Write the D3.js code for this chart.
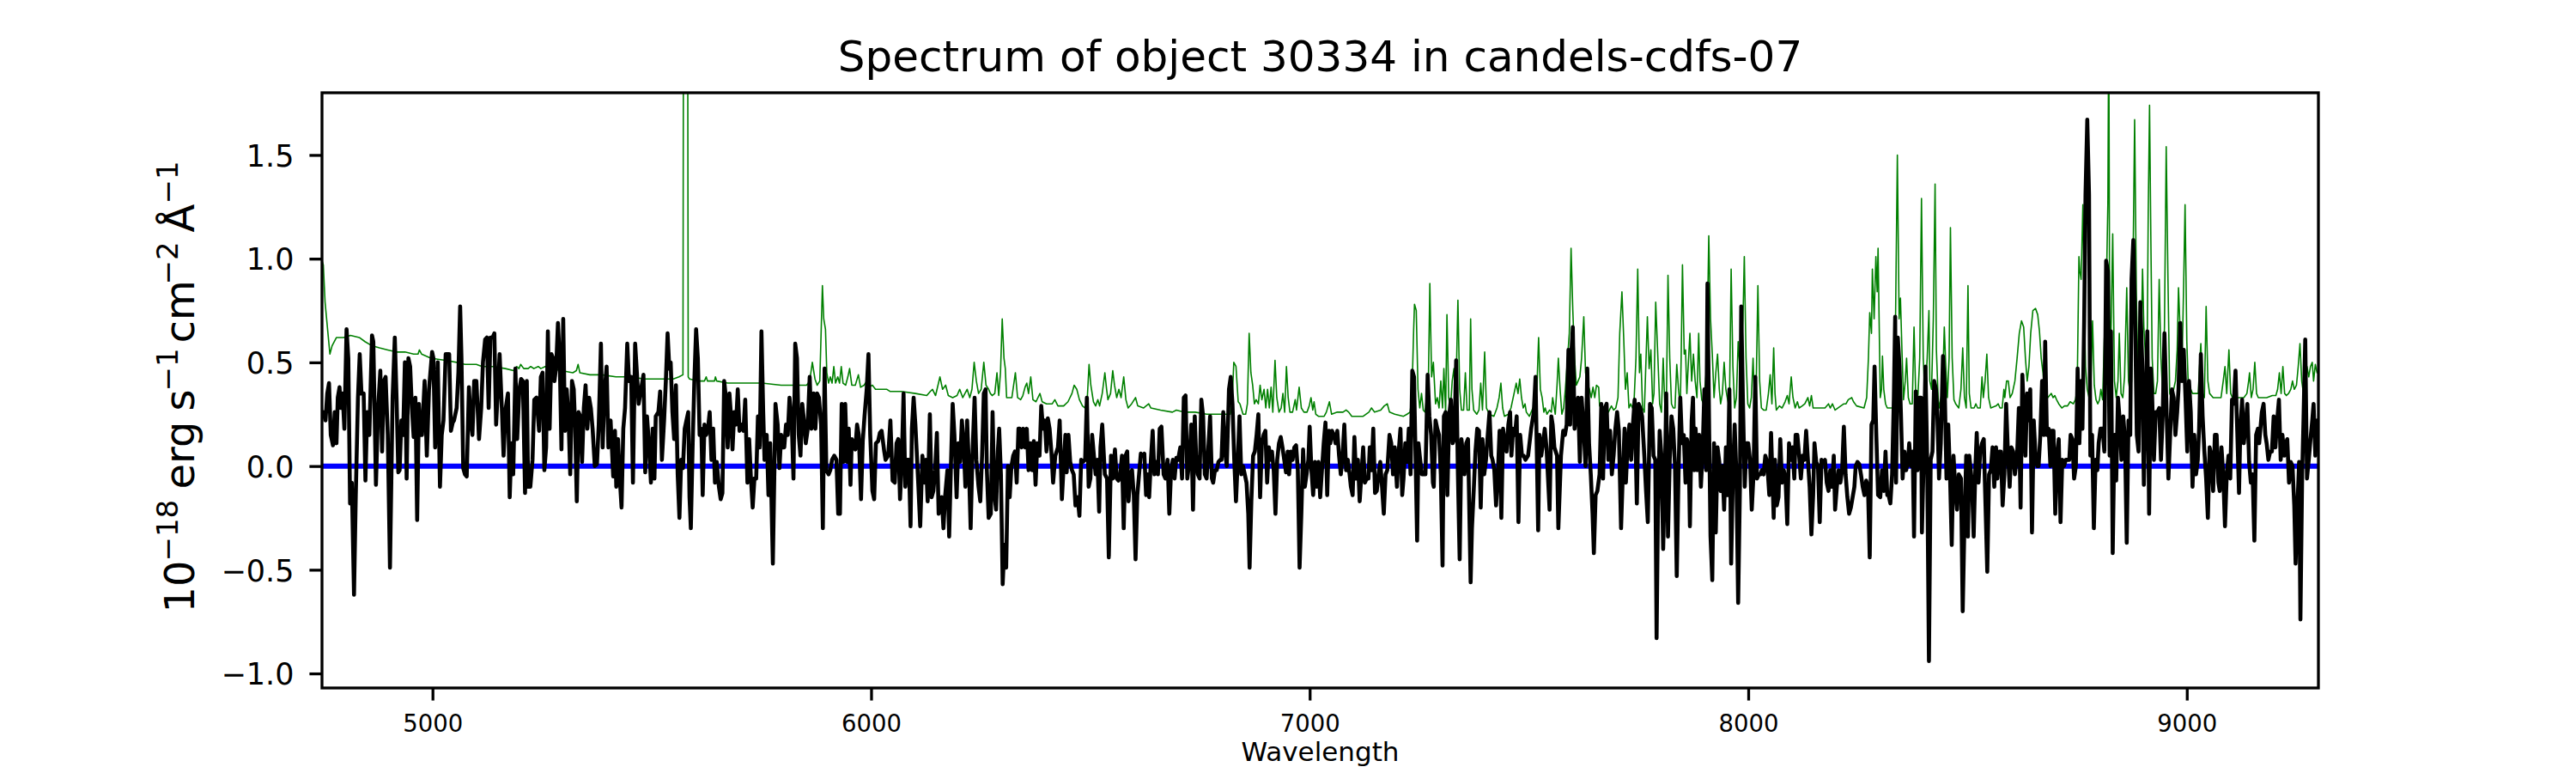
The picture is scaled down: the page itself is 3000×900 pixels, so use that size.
<!DOCTYPE html>
<html><head><meta charset="utf-8">
<script src="https://cdn.jsdelivr.net/npm/d3@7"></script>
<style>body{margin:0;background:#fff}svg{display:block}text{font-family:"DejaVu Sans",sans-serif;fill:#000}</style>
</head><body><svg id="chart" width="3000" height="900"></svg>
<script>
const titleText = "Spectrum of object 30334 in candels-cdfs-07";
const xLabelText = "Wavelength";
const xTicks = [5000, 6000, 7000, 8000, 9000];
const yTicks = [-1.0, -0.5, 0.0, 0.5, 1.0, 1.5];
const xDomain = [4748, 9300];
const yDomain = [-1.07, 1.80];
const zeroLevel = [[4748, 0], [9300, 0]];

// observed flux [wavelength, flux]
const fluxPoints = [
[4749,0.25],[4751,0.26],[4756,0.22],[4760,0.35],[4764,0.40],[4768,0.15],[4773,0.10],[4777,0.26],[4781,0.11],[4784,0.33],[4788,0.38],[4791,0.28],[4795,0.35],[4799,0.18],[4804,0.66],[4808,0.52],[4812,-0.18],[4816,-0.08],[4821,-0.62],[4825,-0.14],[4830,0.33],[4834,0.54],[4838,0.35],[4843,0.35],[4847,-0.07],[4851,0.26],[4856,0.15],[4862,0.63],[4865,0.60],[4871,-0.09],[4876,0.28],[4881,0.46],[4885,0.07],[4889,0.41],[4893,0.43],[4898,0.15],[4903,-0.49],[4909,0.33],[4914,0.62],[4918,0.33],[4922,-0.03],[4925,-0.02],[4929,0.22],[4933,0.15],[4937,0.50],[4941,-0.06],[4945,0.52],[4949,0.48],[4953,0.28],[4957,0.14],[4961,0.33],[4965,-0.26],[4969,0.30],[4972,0.15],[4976,0.15],[4982,0.41],[4987,0.05],[4992,0.37],[4999,0.55],[5002,0.52],[5006,0.09],[5012,0.50],[5017,-0.10],[5021,0.15],[5025,0.22],[5030,0.54],[5034,0.54],[5038,0.54],[5042,0.17],[5046,0.21],[5049,0.22],[5055,0.28],[5059,0.45],[5063,0.77],[5066,0.52],[5070,-0.01],[5074,-0.04],[5078,-0.05],[5083,0.38],[5087,0.22],[5091,0.15],[5095,0.41],[5100,0.41],[5106,0.13],[5111,0.28],[5115,0.50],[5120,0.61],[5124,0.62],[5128,0.28],[5132,0.62],[5137,0.62],[5141,0.64],[5145,0.20],[5149,0.37],[5153,0.54],[5158,0.28],[5162,0.05],[5167,0.28],[5172,0.35],[5176,-0.15],[5180,0.11],[5184,-0.04],[5189,0.47],[5193,0.13],[5198,0.37],[5202,0.42],[5206,0.41],[5211,-0.13],[5215,0.41],[5218,-0.10],[5223,-0.10],[5228,0.03],[5232,0.32],[5237,0.33],[5243,0.17],[5247,0.43],[5251,0.45],
[5255,-0.02],[5259,0.09],[5263,0.65],[5267,0.18],[5271,0.54],[5275,0.52],[5278,0.41],[5282,0.48],[5286,0.69],[5290,0.52],[5294,0.08],[5298,0.71],[5302,0.17],[5306,0.37],[5310,0.24],[5314,-0.04],[5318,0.41],[5322,0.37],[5325,0.20],[5329,-0.17],[5333,0.26],[5337,0.24],[5341,0.02],[5345,0.28],[5349,0.39],[5353,0.18],[5357,0.33],[5361,0.28],[5365,0.18],[5370,0.00],[5375,0.01],[5379,0.20],[5384,0.59],[5388,0.09],[5392,0.35],[5397,0.48],[5401,0.09],[5406,0.22],[5412,-0.05],[5416,0.17],[5419,-0.10],[5423,0.13],[5427,-0.06],[5431,-0.20],[5435,0.18],[5439,0.28],[5444,0.59],[5448,0.41],[5453,0.43],[5457,-0.08],[5462,0.59],[5466,0.45],[5470,0.30],[5474,0.35],[5481,0.44],[5485,-0.03],[5489,0.24],[5494,0.09],[5498,-0.08],[5502,0.18],[5506,-0.06],[5509,0.24],[5515,0.26],[5519,0.36],[5523,0.03],[5528,0.22],[5532,0.41],[5536,0.64],[5540,0.47],[5543,0.50],[5547,0.26],[5551,0.13],[5555,0.39],[5559,-0.04],[5563,-0.25],[5567,0.03],[5571,-0.01],[5575,0.18],[5579,0.22],[5583,0.26],[5586,-0.15],[5589,-0.30],[5593,0.09],[5597,0.41],[5601,0.66],[5605,0.52],[5609,0.15],[5613,0.18],[5616,-0.14],[5620,0.20],[5624,0.15],[5628,0.18],[5632,0.26],[5636,0.03],[5640,0.18],[5644,-0.08],[5648,0.02],[5653,-0.10],[5657,-0.16],[5661,-0.13],[5665,0.41],[5669,0.33],[5673,0.09],[5677,0.35],[5680,0.26],[5684,0.08],[5688,0.26],[5692,0.20],[5696,0.37],[5700,0.17],[5705,0.20],[5709,0.17],[5713,0.32],[5718,-0.08],[5722,0.13],[5726,-0.06],[5730,-0.20],[5734,-0.06],[5738,-0.06],[5742,0.24],[5746,0.09],[5750,0.65],[5754,0.26],[5757,0.03],
[5762,0.15],[5766,-0.14],[5770,0.11],[5776,-0.47],[5782,0.30],[5787,0.20],[5791,-0.01],[5795,0.15],[5799,0.09],[5802,0.09],[5806,0.20],[5810,0.15],[5814,0.33],[5819,0.22],[5823,-0.06],[5827,0.59],[5831,0.52],[5835,0.15],[5839,0.05],[5843,0.30],[5847,0.22],[5851,0.11],[5855,0.17],[5860,0.43],[5864,0.18],[5869,0.35],[5873,0.18],[5877,0.35],[5881,0.33],[5886,0.20],[5890,-0.30],[5894,0.47],[5898,-0.02],[5903,-0.04],[5907,-0.02],[5911,0.03],[5916,0.05],[5921,0.03],[5925,-0.23],[5929,-0.23],[5933,0.30],[5937,0.02],[5941,0.30],[5945,0.02],[5949,0.18],[5953,-0.09],[5956,0.13],[5960,0.11],[5964,0.08],[5968,0.20],[5972,0.15],[5977,-0.16],[5981,0.12],[5985,0.24],[5990,0.37],[5994,0.54],[5998,0.15],[6003,-0.12],[6007,-0.16],[6011,0.11],[6016,0.12],[6020,0.16],[6024,0.17],[6030,0.07],[6033,0.03],[6039,0.05],[6044,0.22],[6049,-0.07],[6054,-0.08],[6058,0.11],[6062,0.13],[6066,-0.16],[6070,0.03],[6074,0.35],[6078,-0.10],[6082,0.03],[6086,0.03],[6090,-0.29],[6093,0.18],[6097,0.33],[6101,0.20],[6107,-0.06],[6112,-0.29],[6117,0.05],[6121,-0.08],[6125,0.03],[6129,-0.17],[6134,0.25],[6138,-0.15],[6142,-0.12],[6146,-0.02],[6150,0.16],[6154,-0.23],[6157,-0.21],[6161,-0.15],[6165,-0.30],[6169,-0.14],[6174,-0.02],[6178,-0.34],[6182,0.00],[6186,0.30],[6190,0.15],[6195,-0.15],[6199,0.11],[6203,0.02],[6207,0.22],[6211,0.11],[6215,-0.10],[6219,0.22],[6223,0.00],[6227,-0.30],[6231,0.05],[6236,0.33],[6240,0.03],[6245,-0.10],[6249,-0.17],[6253,0.05],[6257,0.35],[6261,0.37],[6264,-0.02],[6268,-0.25],
[6273,-0.23],[6277,0.26],[6281,-0.14],[6285,-0.21],[6289,0.07],[6292,0.18],[6296,-0.04],[6300,-0.57],[6304,-0.38],[6308,-0.49],[6312,0.00],[6316,-0.15],[6320,0.00],[6324,0.05],[6328,0.07],[6332,-0.08],[6336,0.18],[6339,0.18],[6343,0.09],[6347,0.18],[6351,0.09],[6355,0.18],[6359,-0.02],[6363,0.11],[6367,-0.02],[6371,0.12],[6375,-0.09],[6379,0.11],[6384,0.05],[6388,0.29],[6392,0.18],[6396,0.22],[6400,0.07],[6403,0.23],[6407,0.18],[6411,0.07],[6415,-0.08],[6420,0.05],[6426,0.09],[6430,0.22],[6435,-0.16],[6439,0.00],[6443,0.15],[6446,-0.03],[6450,0.15],[6454,0.02],[6458,-0.02],[6462,-0.04],[6466,-0.19],[6471,-0.15],[6475,-0.24],[6479,0.03],[6483,0.02],[6488,0.03],[6492,0.33],[6496,-0.10],[6500,-0.06],[6504,0.15],[6508,0.05],[6512,-0.04],[6516,0.03],[6520,-0.22],[6523,0.09],[6527,0.20],[6533,-0.04],[6538,-0.06],[6542,-0.44],[6547,0.05],[6551,-0.06],[6556,0.08],[6560,-0.06],[6564,-0.07],[6568,-0.04],[6572,0.05],[6576,-0.30],[6580,0.05],[6584,0.07],[6587,-0.17],[6591,-0.04],[6595,-0.02],[6599,-0.14],[6603,-0.45],[6607,-0.14],[6611,-0.04],[6615,0.06],[6619,0.05],[6623,0.06],[6627,-0.14],[6630,-0.04],[6634,-0.15],[6638,0.03],[6642,0.17],[6646,-0.04],[6650,0.02],[6654,-0.04],[6658,0.18],[6662,0.19],[6667,-0.04],[6671,-0.06],[6676,0.03],[6680,-0.23],[6684,-0.02],[6688,0.03],[6692,-0.06],[6696,0.04],[6700,0.03],[6705,0.09],[6709,-0.06],[6713,0.33],[6717,0.34],[6721,-0.06],[6726,0.03],[6730,0.20],[6734,-0.21],[6738,0.24],[6741,0.05],[6745,-0.04],[6749,-0.06],[6753,0.32],[6757,0.24],[6761,-0.04],[6765,-0.06],[6769,0.09],[6773,0.24],[6777,-0.06],
[6780,-0.08],[6784,-0.02],[6788,-0.02],[6792,0.02],[6796,0.03],[6799,0.03],[6803,0.26],[6807,0.07],[6811,0.00],[6816,0.37],[6820,0.43],[6824,0.30],[6828,0.03],[6832,-0.17],[6836,0.03],[6840,0.24],[6844,-0.04],[6848,0.00],[6852,-0.04],[6856,-0.08],[6860,-0.23],[6863,-0.49],[6867,-0.17],[6871,0.05],[6875,0.07],[6879,0.15],[6883,0.25],[6887,-0.15],[6891,0.11],[6895,0.15],[6899,0.17],[6903,-0.08],[6907,0.09],[6910,0.03],[6914,0.07],[6918,-0.02],[6922,-0.23],[6926,0.03],[6930,0.11],[6934,0.14],[6938,0.09],[6942,0.03],[6946,-0.03],[6950,0.07],[6953,-0.04],[6957,0.07],[6961,0.03],[6965,0.09],[6969,0.10],[6973,-0.02],[6977,-0.49],[6981,-0.23],[6985,0.08],[6989,-0.10],[6993,-0.04],[6997,0.03],[7000,0.19],[7004,-0.02],[7008,-0.14],[7012,0.02],[7016,-0.10],[7020,0.02],[7024,-0.15],[7028,-0.02],[7032,0.11],[7036,0.21],[7040,-0.14],[7044,0.17],[7047,0.11],[7051,0.17],[7055,0.15],[7059,0.11],[7063,0.17],[7067,0.05],[7071,-0.04],[7075,0.05],[7079,0.20],[7083,-0.02],[7087,0.03],[7091,-0.04],[7094,-0.10],[7098,-0.14],[7102,0.14],[7106,-0.06],[7110,0.03],[7114,-0.17],[7118,-0.04],[7122,0.09],[7126,-0.08],[7130,-0.06],[7134,-0.06],[7137,0.09],[7141,-0.02],[7145,0.18],[7149,-0.13],[7153,-0.12],[7157,-0.04],[7161,0.02],[7165,-0.10],[7169,-0.23],[7173,-0.04],[7177,-0.02],[7182,0.15],[7186,0.11],[7190,-0.04],[7194,0.09],[7199,-0.10],[7203,0.07],[7207,0.18],[7211,-0.14],[7214,-0.06],[7218,0.11],[7222,0.02],[7226,0.18],[7230,-0.04],[7234,0.46],[7238,0.43],[7242,-0.02],[7245,-0.36],[7248,0.11],[7252,0.03],[7256,-0.04],[7260,-0.04],[7264,-0.04],[7269,0.44],[7273,0.24],[7277,0.15],[7281,-0.08],
[7283,-0.10],[7287,0.22],[7291,0.18],[7295,0.15],[7299,-0.04],[7303,-0.48],[7306,0.24],[7310,0.26],[7314,-0.14],[7318,0.24],[7322,0.32],[7326,0.11],[7330,0.13],[7334,0.51],[7338,-0.04],[7342,-0.45],[7346,0.13],[7350,0.05],[7353,-0.04],[7357,0.11],[7361,0.13],[7367,-0.56],[7370,-0.30],[7374,-0.12],[7378,0.07],[7382,0.18],[7386,0.17],[7390,-0.20],[7394,0.13],[7398,-0.04],[7402,0.03],[7406,0.15],[7410,0.26],[7414,0.05],[7417,0.03],[7421,-0.02],[7425,-0.19],[7429,-0.04],[7433,0.17],[7437,-0.25],[7441,0.18],[7445,0.11],[7449,0.07],[7453,0.20],[7457,0.26],[7460,0.05],[7464,0.18],[7468,0.15],[7472,0.24],[7476,-0.27],[7480,0.15],[7484,0.05],[7488,0.05],[7492,0.03],[7498,0.05],[7505,0.18],[7511,0.26],[7515,0.43],[7521,-0.31],[7524,0.15],[7528,0.05],[7532,0.11],[7536,0.18],[7540,0.09],[7547,-0.21],[7551,0.24],[7554,0.20],[7558,0.09],[7564,0.05],[7567,-0.30],[7573,0.05],[7578,0.17],[7582,0.15],[7586,0.20],[7590,0.56],[7594,0.20],[7596,0.52],[7600,0.67],[7604,0.18],[7608,0.26],[7612,0.33],[7616,0.02],[7620,0.33],[7625,0.17],[7629,0.00],[7633,0.47],[7637,0.11],[7641,-0.04],[7645,-0.23],[7648,-0.42],[7652,-0.14],[7656,-0.12],[7661,-0.04],[7665,0.30],[7669,-0.06],[7673,0.28],[7677,0.30],[7681,0.03],[7685,0.17],[7689,-0.04],[7693,0.05],[7697,0.18],[7701,0.26],[7705,0.17],[7710,-0.30],[7714,-0.04],[7718,0.18],[7721,-0.08],[7725,0.11],[7729,0.20],[7733,0.03],[7737,0.20],[7741,0.32],[7746,-0.18],[7750,0.30],[7754,0.28],[7758,0.24],[7763,0.05],[7767,-0.12],[7771,-0.27],[7776,0.30],[7780,0.28],[7784,0.05],[7788,0.03],[7791,-0.83],
[7794,-0.23],[7798,0.17],[7802,0.05],[7806,-0.40],[7810,-0.04],[7813,0.35],[7817,-0.34],[7821,0.03],[7825,0.24],[7829,0.18],[7833,0.00],[7837,-0.53],[7841,-0.04],[7845,0.33],[7849,0.11],[7853,0.15],[7857,-0.08],[7860,0.13],[7864,0.09],[7867,-0.29],[7871,0.22],[7874,0.33],[7877,-0.02],[7880,0.18],[7884,-0.02],[7888,0.15],[7892,-0.10],[7896,0.07],[7900,0.37],[7904,-0.02],[7907,0.88],[7911,0.15],[7914,-0.34],[7918,-0.55],[7922,0.11],[7926,-0.32],[7930,0.09],[7934,0.02],[7937,-0.12],[7941,0.00],[7945,-0.21],[7949,0.09],[7953,-0.14],[7957,0.37],[7961,-0.47],[7965,-0.04],[7969,0.20],[7973,-0.04],[7977,-0.66],[7981,-0.10],[7984,0.77],[7988,0.30],[7992,-0.10],[7996,0.11],[8000,0.11],[8004,0.03],[8008,-0.21],[8012,-0.04],[8016,0.43],[8020,-0.06],[8024,-0.04],[8028,-0.04],[8031,-0.02],[8035,-0.04],[8039,0.05],[8043,0.02],[8048,-0.14],[8052,0.16],[8058,-0.25],[8061,0.03],[8065,-0.19],[8069,-0.15],[8073,0.13],[8077,-0.08],[8081,-0.02],[8085,-0.06],[8089,-0.28],[8093,0.11],[8097,0.03],[8101,0.09],[8105,-0.06],[8108,0.15],[8112,0.15],[8116,0.05],[8120,-0.06],[8124,0.05],[8128,0.03],[8132,0.17],[8136,0.03],[8140,-0.10],[8144,-0.33],[8148,-0.14],[8151,0.11],[8155,0.02],[8159,0.00],[8163,-0.27],[8167,0.03],[8171,0.02],[8175,0.03],[8179,-0.08],[8183,-0.12],[8187,-0.02],[8191,-0.10],[8195,0.05],[8198,-0.21],[8202,-0.10],[8206,-0.02],[8210,-0.08],[8214,-0.02],[8218,0.19],[8222,-0.04],[8226,-0.15],[8230,-0.23],[8234,-0.20],[8238,-0.15],[8242,-0.10],[8245,0.00],[8249,0.02],[8253,0.01],[8257,-0.04],[8261,-0.10],[8265,-0.14],[8269,-0.07],[8273,-0.10],[8277,-0.44],[8281,0.20],[8285,0.22],[8288,0.48],[8292,0.15],[8296,-0.14],
[8301,-0.15],[8305,-0.02],[8309,-0.12],[8313,0.07],[8317,-0.14],[8320,-0.14],[8324,-0.18],[8328,-0.04],[8332,0.33],[8335,0.72],[8337,-0.08],[8341,0.62],[8345,0.48],[8348,0.26],[8352,-0.06],[8356,0.07],[8360,-0.02],[8364,0.02],[8367,0.11],[8371,0.00],[8375,0.07],[8378,-0.34],[8382,0.36],[8386,-0.02],[8390,0.33],[8394,0.33],[8396,-0.32],[8400,0.03],[8404,0.48],[8408,0.03],[8412,-0.94],[8416,0.03],[8420,0.07],[8424,0.41],[8428,0.37],[8431,0.26],[8435,-0.06],[8439,0.11],[8444,0.53],[8448,0.37],[8452,-0.06],[8456,0.20],[8460,-0.04],[8464,-0.38],[8468,0.05],[8472,-0.10],[8476,-0.21],[8480,-0.04],[8485,-0.06],[8489,-0.70],[8493,-0.27],[8497,0.05],[8501,-0.34],[8504,0.05],[8510,-0.08],[8514,-0.34],[8518,0.00],[8521,0.16],[8525,-0.08],[8529,0.07],[8533,0.11],[8537,0.13],[8541,-0.19],[8545,-0.51],[8549,-0.04],[8553,-0.02],[8557,0.09],[8561,-0.10],[8565,0.09],[8568,-0.06],[8572,0.07],[8576,0.07],[8580,-0.19],[8584,-0.04],[8588,0.30],[8592,0.07],[8596,-0.10],[8600,0.09],[8604,0.07],[8608,-0.04],[8613,0.05],[8617,0.28],[8621,-0.20],[8625,0.44],[8628,0.28],[8632,0.05],[8636,0.35],[8640,0.22],[8643,0.37],[8647,-0.32],[8651,0.22],[8655,0.05],[8659,0.00],[8662,0.00],[8666,0.15],[8670,0.41],[8674,0.15],[8677,0.60],[8681,0.15],[8685,0.18],[8689,0.00],[8692,0.17],[8696,0.17],[8700,-0.23],[8704,0.05],[8708,0.13],[8712,-0.27],[8716,0.03],[8720,0.00],[8724,0.03],[8728,0.03],[8732,0.03],[8735,0.15],[8739,0.13],[8743,-0.06],[8747,0.00],[8751,0.47],[8755,0.11],[8759,0.41],[8762,0.18],[8766,0.71],[8769,1.31],[8773,1.67],[8777,1.31],[8780,0.05],[8784,0.15],[8788,-0.30],[8792,0.03],[8796,-0.02],[8799,0.11],[8803,0.18],
[8808,0.18],[8812,0.07],[8816,0.99],[8820,0.94],[8824,0.05],[8827,0.65],[8831,-0.42],[8835,0.15],[8839,-0.07],[8843,0.33],[8847,0.22],[8851,0.03],[8855,0.24],[8859,0.13],[8863,-0.37],[8867,0.22],[8871,0.15],[8874,0.90],[8878,1.09],[8882,0.71],[8886,0.15],[8890,0.07],[8894,0.79],[8898,0.52],[8902,-0.09],[8906,0.33],[8910,0.65],[8914,-0.23],[8918,0.47],[8921,0.33],[8925,0.03],[8929,0.26],[8933,0.26],[8937,0.28],[8941,0.03],[8945,0.24],[8949,0.64],[8953,0.33],[8958,-0.06],[8962,0.15],[8966,0.37],[8970,0.33],[8974,0.15],[8978,0.26],[8981,0.37],[8985,0.69],[8989,0.41],[8993,0.56],[8997,0.33],[9001,0.07],[9005,0.41],[9009,0.26],[9013,-0.10],[9017,0.15],[9021,-0.04],[9025,0.03],[9028,0.18],[9032,0.54],[9036,0.24],[9040,0.07],[9044,-0.06],[9048,-0.25],[9052,0.09],[9056,0.05],[9060,-0.12],[9064,0.15],[9068,0.15],[9072,-0.08],[9075,-0.12],[9079,0.09],[9083,-0.04],[9087,-0.29],[9091,-0.04],[9095,0.05],[9099,-0.06],[9103,0.32],[9107,0.30],[9111,0.46],[9115,0.17],[9119,-0.13],[9122,0.18],[9126,0.32],[9130,0.11],[9134,0.20],[9138,0.30],[9142,0.02],[9146,-0.08],[9150,-0.04],[9154,-0.36],[9158,0.15],[9162,0.18],[9165,0.11],[9171,0.26],[9175,0.30],[9179,0.15],[9182,0.11],[9186,0.03],[9190,0.07],[9194,0.07],[9198,0.24],[9202,0.09],[9206,0.22],[9210,0.32],[9214,0.03],[9218,0.15],[9222,0.05],[9226,0.11],[9229,0.13],[9233,-0.08],[9237,0.02],[9241,0.00],[9245,-0.19],[9248,-0.47],[9252,-0.21],[9256,0.02],[9259,-0.74],[9263,-0.04],[9266,0.22],[9270,0.61],[9274,-0.06],[9278,0.03],[9282,0.13],[9286,0.22],[9289,0.30],[9293,0.05],[9297,0.22],[9300,0.20]
];

// noise / contamination spectrum [wavelength, flux]
const skyPoints = [
[4748,0.99],[4751,0.97],[4755,0.79],[4766,0.54],[4771,0.58],[4781,0.62],[4797,0.62],[4813,0.63],[4833,0.62],[4846,0.60],[4862,0.58],[4879,0.57],[4898,0.56],[4918,0.55],[4937,0.55],[4957,0.54],[4967,0.54],[4970,0.56],[4975,0.54],[4996,0.52],[5029,0.51],[5055,0.50],[5074,0.49],[5100,0.49],[5113,0.48],[5139,0.48],[5166,0.47],[5185,0.46],[5192,0.48],[5197,0.47],[5201,0.49],[5208,0.47],[5218,0.47],[5224,0.48],[5231,0.47],[5241,0.48],[5247,0.47],[5257,0.48],
[5268,0.47],[5294,0.46],[5320,0.45],[5328,0.46],[5332,0.49],[5336,0.45],[5359,0.44],[5386,0.44],[5418,0.43],[5451,0.43],[5483,0.42],[5516,0.42],[5549,0.42],[5562,0.43],[5571,0.44],[5574,5.0],[5580,5.0],[5583,0.43],[5586,0.42],[5607,0.41],[5620,0.41],[5624,0.43],[5627,0.41],[5643,0.41],[5645,0.43],[5648,0.41],[5673,0.40],[5712,0.40],[5751,0.40],
[5795,0.39],[5827,0.39],[5853,0.39],[5860,0.41],[5866,0.50],[5872,0.42],[5877,0.39],[5883,0.41],[5889,0.87],[5892,0.71],[5896,0.66],[5899,0.45],[5903,0.40],[5907,0.43],[5911,0.40],[5915,0.48],[5919,0.40],[5924,0.43],[5928,0.40],[5932,0.48],[5936,0.40],[5942,0.39],[5947,0.43],[5951,0.47],[5956,0.39],[5964,0.39],[5971,0.44],[5976,0.38],[5984,0.39],[5990,0.41],[5994,0.38],[6003,0.39],[6010,0.37],[6036,0.37],[6043,0.36],[6069,0.36],[6101,0.35],[6127,0.34],[6135,0.36],[6140,0.37],[6147,0.34],[6157,0.43],[6163,0.37],[6170,0.39],[6176,0.34],[6186,0.33],[6196,0.34],[6202,0.37],[6209,0.33],[6219,0.37],[6225,0.33],[6230,0.37],[6235,0.50],[6240,0.41],[6245,0.35],[6251,0.37],[6257,0.50],[6262,0.39],[6268,0.37],
[6272,0.35],[6276,0.34],[6282,0.35],[6287,0.45],[6291,0.34],[6295,0.45],[6299,0.71],[6303,0.52],[6306,0.47],[6309,0.33],[6321,0.33],[6329,0.45],[6334,0.33],[6341,0.32],[6346,0.34],[6351,0.38],[6355,0.40],[6359,0.35],[6364,0.43],[6369,0.32],[6376,0.31],[6385,0.35],[6390,0.31],[6400,0.30],[6413,0.30],[6419,0.32],[6426,0.29],[6439,0.29],[6449,0.31],[6458,0.35],[6463,0.39],[6469,0.37],[6475,0.32],[6482,0.29],[6488,0.28],[6493,0.33],[6497,0.49],[6501,0.39],[6507,0.31],[6512,0.29],[6517,0.32],[6521,0.29],[6527,0.35],[6533,0.45],[6537,0.37],[6540,0.32],[6546,0.35],[6551,0.46],[6555,0.39],[6560,0.33],[6565,0.37],[6570,0.33],[6576,0.43],[6581,0.32],[6586,0.28],[6594,0.30],[6603,0.33],[6608,0.29],[6621,0.28],[6627,0.29],[6633,0.30],[6638,0.28],[6660,0.27],[6687,0.26],[6696,0.27],[6713,0.26],[6739,0.26],[6765,0.25],[6778,0.25],
[6802,0.25],[6819,0.25],[6823,0.30],[6827,0.50],[6832,0.48],[6837,0.31],[6841,0.30],[6848,0.25],[6854,0.25],[6858,0.30],[6862,0.64],[6866,0.45],[6870,0.39],[6874,0.30],[6878,0.32],[6883,0.30],[6887,0.39],[6891,0.32],[6896,0.37],[6900,0.28],[6904,0.37],[6908,0.28],[6912,0.38],[6916,0.26],[6921,0.51],[6925,0.33],[6930,0.26],[6935,0.28],[6939,0.35],[6943,0.26],[6947,0.48],[6951,0.33],[6955,0.26],[6961,0.26],[6967,0.32],[6970,0.27],[6976,0.38],[6981,0.28],[6987,0.26],[6994,0.26],[6999,0.29],[7003,0.33],[7007,0.27],[7010,0.31],[7014,0.25],[7020,0.24],[7033,0.24],[7038,0.26],[7045,0.31],[7050,0.25],[7063,0.26],[7076,0.26],[7083,0.27],[7089,0.26],[7096,0.24],[7122,0.24],[7135,0.26],[7141,0.28],[7148,0.26],[7162,0.27],[7170,0.29],[7177,0.30],[7182,0.26],[7194,0.25],[7214,0.24],[7222,0.25],[7229,0.26],[7233,0.33],[7237,0.65],[7239,0.78],[7243,0.75],[7247,0.37],[7251,0.28],[7255,0.35],[7259,0.27],[7263,0.26],[7267,0.34],[7271,0.45],[7274,0.88],[7278,0.43],[7282,0.50],
[7287,0.30],[7291,0.33],[7295,0.28],[7299,0.41],[7303,0.28],[7306,0.47],[7310,0.26],[7313,0.73],[7317,0.33],[7321,0.28],[7325,0.41],[7329,0.47],[7333,0.30],[7338,0.80],[7342,0.37],[7346,0.27],[7351,0.27],[7355,0.45],[7359,0.27],[7364,0.27],[7367,0.71],[7370,0.37],[7374,0.27],[7381,0.25],[7386,0.27],[7390,0.40],[7394,0.27],[7399,0.55],[7403,0.28],[7410,0.25],[7420,0.24],[7427,0.28],[7432,0.33],[7436,0.40],[7440,0.28],[7444,0.24],[7453,0.25],[7459,0.28],[7466,0.35],[7471,0.40],[7475,0.35],[7479,0.42],[7483,0.33],[7487,0.28],[7491,0.30],[7494,0.26],[7501,0.24],[7507,0.27],[7514,0.30],[7518,0.37],[7522,0.62],[7526,0.37],[7530,0.33],[7534,0.26],[7537,0.28],[7541,0.25],[7547,0.27],[7551,0.26],[7554,0.33],[7560,0.25],[7564,0.39],[7567,0.52],[7571,0.37],[7575,0.25],[7579,0.28],[7583,0.37],[7588,0.52],[7592,0.64],[7596,1.05],[7600,0.75],[7604,0.52],[7608,0.39],[7612,0.41],[7616,0.43],[7620,0.52],[7625,0.72],[7629,0.45],[7633,0.40],[7638,0.37],[7642,0.33],[7646,0.38],[7650,0.33],[7654,0.39],[7659,0.38],[7661,0.29],[7668,0.28],[7681,0.26],[7688,0.29],[7693,0.27],[7698,0.28],[7703,0.33],[7707,0.64],[7712,0.84],[7716,0.62],[7720,0.37],[7724,0.45],[7728,0.28],[7732,0.30],[7736,0.28],[7740,0.33],[7744,0.52],[7748,0.95],[7752,0.45],[7755,0.54],[7759,0.28],[7763,0.26],[7767,0.52],[7770,0.72],[7774,0.47],[7778,0.56],[7782,0.30],[7785,0.35],[7789,0.79],
[7794,0.52],[7798,0.30],[7802,0.26],[7806,0.52],[7810,0.28],[7813,0.26],[7817,0.92],[7821,0.52],[7825,0.30],[7829,0.28],[7833,0.28],[7837,0.49],[7841,0.37],[7845,0.28],[7847,0.52],[7850,0.97],[7854,0.54],[7857,0.56],[7860,0.35],[7864,0.52],[7867,0.64],[7871,0.41],[7875,0.54],[7879,0.41],[7883,0.33],[7887,0.64],[7890,0.41],[7894,0.32],[7898,0.30],[7904,0.45],[7907,0.71],[7910,1.11],[7914,0.71],[7918,0.54],[7922,0.33],[7926,0.45],[7930,0.54],[7934,0.37],[7937,0.30],[7941,0.35],[7945,0.50],[7949,0.37],[7953,0.32],[7957,0.28],[7961,0.95],[7965,0.48],[7969,0.28],[7973,0.33],[7977,0.60],[7981,0.47],[7984,0.52],[7988,0.71],[7991,1.01],[7995,0.52],[7999,0.30],[8003,0.28],[8007,0.33],[8011,0.52],[8014,0.33],[8018,0.37],[8022,0.87],[8026,0.41],[8030,0.28],[8035,0.27],[8041,0.27],[8046,0.35],[8050,0.44],[8054,0.30],[8058,0.57],[8061,0.35],[8064,0.27],[8071,0.29],[8077,0.28],[8084,0.31],[8089,0.34],[8093,0.30],[8098,0.43],[8102,0.33],[8107,0.28],[8112,0.31],[8116,0.28],[8123,0.29],[8129,0.30],[8136,0.33],[8140,0.29],[8144,0.34],[8148,0.28],[8159,0.28],[8175,0.28],[8183,0.30],[8187,0.28],[8192,0.30],[8198,0.27],[8218,0.30],[8223,0.30],[8228,0.32],[8236,0.33],[8240,0.31],[8247,0.29],[8264,0.28],[8270,0.33],[8274,0.52],[8277,0.74],[8281,0.64],[8283,0.95],[8287,0.71],[8291,1.01],[8294,0.84],[8296,1.05],
[8301,0.33],[8304,0.37],[8306,0.53],[8309,0.37],[8313,0.30],[8317,0.28],[8330,0.28],[8334,0.32],[8337,0.94],[8340,1.50],[8344,0.71],[8347,0.81],[8351,0.52],[8354,0.32],[8358,0.41],[8361,0.52],[8365,0.33],[8369,0.30],[8374,0.30],[8378,0.67],[8382,0.33],[8386,0.30],[8391,0.52],[8395,1.29],[8399,0.52],[8403,0.33],[8408,0.52],[8412,0.75],[8414,0.41],[8418,0.37],[8422,0.71],[8426,1.36],[8429,0.56],[8433,0.33],[8435,0.28],[8443,0.37],[8447,0.67],[8450,0.50],[8454,0.33],[8458,0.52],[8461,1.15],[8465,0.52],[8469,0.32],[8473,0.30],[8480,0.28],[8485,0.37],[8489,0.57],[8493,0.33],[8497,0.28],[8501,0.87],[8504,0.35],[8508,0.28],[8515,0.28],[8519,0.30],[8523,0.28],[8529,0.28],[8533,0.43],[8536,0.33],[8540,0.41],[8544,0.54],[8548,0.33],[8553,0.28],[8565,0.29],[8570,0.30],[8574,0.28],[8579,0.28],[8583,0.37],[8585,0.33],[8589,0.41],[8593,0.41],[8597,0.33],[8602,0.35],[8608,0.41],[8613,0.52],[8618,0.64],[8623,0.70],[8628,0.67],[8632,0.52],[8636,0.41],[8640,0.48],[8644,0.64],[8649,0.75],[8655,0.76],[8660,0.73],[8664,0.65],[8668,0.52],[8672,0.45],[8675,0.37],[8679,0.35],[8683,0.33],[8687,0.34],[8691,0.35],[8695,0.33],[8699,0.34],[8703,0.32],[8708,0.30],[8715,0.28],[8721,0.29],[8728,0.29],[8734,0.31],[8741,0.30],[8746,0.32],[8750,0.37],[8754,1.01],[8756,0.94],[8759,0.90],[8763,1.26],[8766,0.84],[8769,0.48],[8773,0.37],[8777,0.33],[8781,0.37],[8785,0.70],[8789,0.39],[8793,0.32],[8797,0.30],[8801,0.32],
[8804,0.37],[8808,0.32],[8812,0.62],[8816,0.79],[8820,1.27],[8822,2.20],[8824,0.71],[8827,0.62],[8831,1.12],[8835,0.41],[8839,0.33],[8843,0.41],[8846,0.64],[8850,0.35],[8854,0.33],[8858,0.43],[8863,0.86],[8867,0.41],[8871,0.35],[8874,0.41],[8878,1.09],[8881,1.67],[8885,0.82],[8889,0.41],[8893,0.45],[8897,0.71],[8899,0.95],[8902,0.67],[8906,0.52],[8910,0.67],[8912,1.22],[8915,1.74],[8918,1.09],[8921,0.52],[8925,0.35],[8929,0.35],[8933,0.41],[8937,0.90],[8941,0.52],[8945,0.35],[8949,0.67],[8953,1.54],[8957,0.90],[8961,0.35],[8965,0.33],[8968,0.35],[8974,0.41],[8978,0.56],[8981,0.86],[8985,0.64],[8989,0.48],[8993,0.90],[8996,1.26],[9000,0.60],[9004,0.35],[9009,0.37],[9013,0.35],[9021,0.35],[9026,0.35],[9030,0.52],[9032,0.59],[9036,0.35],[9040,0.33],[9044,0.77],[9048,0.41],[9052,0.35],[9060,0.33],[9072,0.33],[9078,0.33],[9083,0.41],[9087,0.48],[9091,0.35],[9096,0.56],[9100,0.35],[9104,0.33],[9117,0.33],[9130,0.33],[9137,0.35],[9141,0.41],[9143,0.45],[9147,0.33],[9151,0.37],[9155,0.50],[9159,0.35],[9163,0.33],[9182,0.33],[9195,0.34],[9203,0.34],[9207,0.37],[9211,0.45],[9215,0.35],[9219,0.48],[9223,0.35],[9227,0.34],[9232,0.35],[9237,0.37],[9241,0.41],[9245,0.37],[9250,0.39],[9254,0.48],[9258,0.59],[9262,0.41],[9266,0.35],[9270,0.41],[9274,0.48],[9278,0.43],[9282,0.48],[9286,0.50],[9289,0.41],[9293,0.49],[9297,0.45],[9300,0.45]
];

const yLabelParts = [
  {t: "10", sup: false, at: -259},
  {t: "\u221218", sup: true, at: -199},
  {t: "erg", sup: false, at: -115},
  {t: "s", sup: false, at: -24},
  {t: "\u22121", sup: true, at: -1},
  {t: "cm", sup: false, at: 55},
  {t: "\u22122", sup: true, at: 123},
  {t: "\u00C5", sup: false, at: 184},
  {t: "\u22121", sup: true, at: 217}
];

const W = 3000, H = 900;
const frame = {l: 375, r: 2700, t: 108, b: 801};
const svg = d3.select("#chart");
svg.append("rect").attr("width", W).attr("height", H).attr("fill", "#fff");

const x = d3.scaleLinear().domain(xDomain).range([frame.l, frame.r]);
const y = d3.scaleLinear().domain(yDomain).range([frame.b, frame.t]);

svg.append("defs").append("clipPath").attr("id", "plotclip")
  .append("rect").attr("x", frame.l).attr("y", frame.t)
  .attr("width", frame.r - frame.l).attr("height", frame.b - frame.t);

const plot = svg.append("g").attr("clip-path", "url(#plotclip)");
const line = d3.line().x(d => x(d[0])).y(d => y(d[1]));

plot.append("path").datum(skyPoints).attr("d", line)
  .attr("fill", "none").attr("stroke", "#008000").attr("stroke-width", 1.6)
  .attr("stroke-linejoin", "round");
plot.append("path").datum(zeroLevel).attr("d", line)
  .attr("fill", "none").attr("stroke", "#0000ff").attr("stroke-width", 6);
plot.append("path").datum(fluxPoints).attr("d", line)
  .attr("fill", "none").attr("stroke", "#000").attr("stroke-width", 4.6)
  .attr("stroke-linejoin", "round").attr("stroke-linecap", "round");

// axes
const xAxis = svg.append("g").attr("transform", `translate(0,${frame.b})`)
  .call(d3.axisBottom(x).tickValues(xTicks).tickFormat(d3.format("d")).tickSize(14.6).tickSizeOuter(0));
xAxis.select(".domain").remove();
xAxis.selectAll(".tick line").attr("stroke", "#000").attr("stroke-width", 3.3);
xAxis.selectAll(".tick text").attr("y", 51).attr("dy", null)
  .attr("font-size", 27.5).attr("font-family", "DejaVu Sans").attr("fill", "#000");

const yAxis = svg.append("g").attr("transform", `translate(${frame.l},0)`)
  .call(d3.axisLeft(y).tickValues(yTicks).tickFormat(d3.format(".1f")).tickSize(14.6).tickSizeOuter(0));
yAxis.select(".domain").remove();
yAxis.selectAll(".tick line").attr("stroke", "#000").attr("stroke-width", 3.3);
yAxis.selectAll(".tick text").attr("x", -32.5).attr("dy", "0.365em")
  .attr("font-size", 35).attr("font-family", "DejaVu Sans").attr("fill", "#000");

// frame
svg.append("rect").attr("x", frame.l).attr("y", frame.t)
  .attr("width", frame.r - frame.l).attr("height", frame.b - frame.t)
  .attr("fill", "none").attr("stroke", "#000").attr("stroke-width", 3.3);

// title
svg.append("text").attr("x", (frame.l + frame.r) / 2).attr("y", 83)
  .attr("text-anchor", "middle").attr("font-size", 50).text(titleText);

// x label
svg.append("text").attr("x", (frame.l + frame.r) / 2).attr("y", 886)
  .attr("text-anchor", "middle").attr("font-size", 31).text(xLabelText);

// y label (rotated, mathtext-like)
const yl = svg.append("text")
  .attr("transform", `translate(226,${(frame.t + frame.b) / 2}) rotate(-90)`)
  .attr("font-size", 48);
yLabelParts.forEach(p => {
  yl.append("tspan").attr("x", p.at).attr("y", p.sup ? -19 : 0)
    .attr("font-size", p.sup ? 34 : 48).text(p.t);
});
</script>
</body></html>
